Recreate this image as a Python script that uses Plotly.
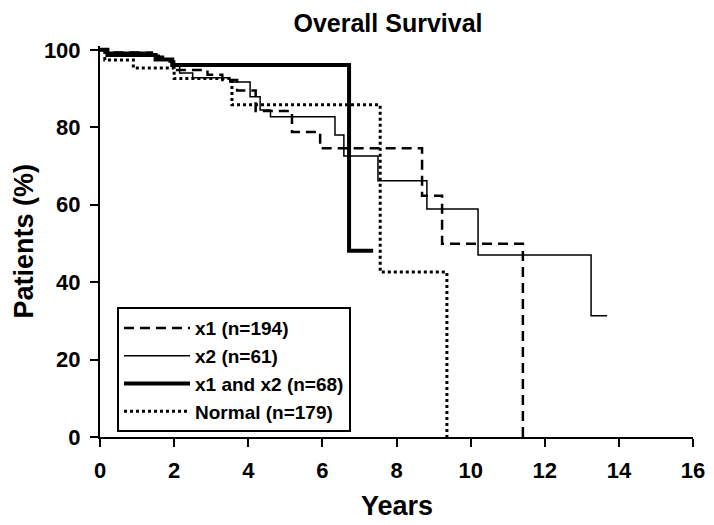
import plotly.graph_objects as go

# ---- data ----
x1_years = [0, 0.2, 1.4, 1.7, 2.0, 2.9, 3.3, 3.7, 4.2, 5.18, 5.94, 8.69, 9.23, 11.41]
x1_surv = [100, 99.3, 98.2, 97.0, 94.8, 93.6, 92.2, 89.5, 84.2, 78.8, 74.6, 62.3, 49.9, 0]

x2_years = [0, 0.15, 1.2, 1.6, 1.95, 2.15, 2.5, 3.5, 4.05, 4.32, 4.6, 6.34, 6.58, 7.5, 8.82, 10.2, 13.25, 13.68]
x2_surv = [100, 99.4, 98.6, 97.4, 96.2, 94.0, 92.8, 91.7, 87.9, 84.5, 82.7, 78.0, 72.6, 66.2, 58.9, 47.0, 31.3, 31.3]

both_years = [0, 0.2, 1.5, 1.95, 6.72, 7.37]
both_surv = [100, 98.7, 97.5, 96.1, 48.1, 48.1]

normal_years = [0, 0.13, 0.9, 2.0, 3.56, 7.56, 9.36]
normal_surv = [100, 97.4, 95.3, 92.6, 85.8, 42.6, 0]

series_names = ["x1 (n=194)", "x2 (n=61)", "x1 and x2 (n=68)", "Normal (n=179)"]
x_ticks = [0, 2, 4, 6, 8, 10, 12, 14, 16]
y_ticks = [0, 20, 40, 60, 80, 100]

FONT = "Liberation Sans, Arial, sans-serif"

# the page body has an 8px default margin, so the figure is drawn 8px smaller
W, H = 706, 517

fig = go.Figure()
fig.add_trace(go.Scatter(x=x1_years, y=x1_surv, mode="lines",
                         line=dict(color="black", width=2.5, dash="10px,6px", shape="hv"),
                         name=series_names[0]))
fig.add_trace(go.Scatter(x=x2_years, y=x2_surv, mode="lines",
                         line=dict(color="black", width=1.5, shape="hv"),
                         name=series_names[1]))
fig.add_trace(go.Scatter(x=both_years, y=both_surv, mode="lines",
                         line=dict(color="black", width=4, shape="hv"),
                         name=series_names[2]))
fig.add_trace(go.Scatter(x=normal_years, y=normal_surv, mode="lines",
                         line=dict(color="black", width=3, dash="3px,3px", shape="hv"),
                         name=series_names[3]))

fig.update_layout(
    width=W, height=H,
    margin=dict(l=92, r=21, t=38, b=88),
    paper_bgcolor="white", plot_bgcolor="white",
    font=dict(family=FONT, color="black"),
    title=dict(text="Overall Survival", x=380 / W, xanchor="center",
               y=1 - 15 / H, yanchor="middle",
               font=dict(size=25, weight="bold")),
    showlegend=True,
    legend=dict(x=0.0287, y=0.332, xanchor="left", yanchor="top",
                bgcolor="white", bordercolor="black", borderwidth=2,
                font=dict(size=19, family=FONT, weight="bold"), itemwidth=66,
                tracegroupgap=0),
    annotations=[
        dict(text="Years", xref="paper", yref="paper", x=0.5, y=-69 / 391,
             xanchor="center", yanchor="middle", showarrow=False,
             font=dict(size=27, weight="bold")),
        dict(text="Patients (%)", xref="paper", yref="paper", x=-77 / 593, y=0.5,
             xanchor="center", yanchor="middle", showarrow=False, textangle=-90,
             font=dict(size=27, weight="bold")),
    ],
)
fig.update_xaxes(range=[0, 16], tickvals=x_ticks,
                 showgrid=False, zeroline=False, showline=True, linecolor="black", linewidth=2,
                 ticks="outside", ticklen=8, tickwidth=2, tickcolor="black",
                 ticklabelstandoff=5, automargin=False,
                 tickfont=dict(size=22, weight="bold"))
fig.update_yaxes(range=[0, 101], tickvals=y_ticks,
                 showgrid=False, zeroline=False, showline=True, linecolor="black", linewidth=2,
                 ticks="outside", ticklen=8, tickwidth=2, tickcolor="black",
                 ticklabelstandoff=5, automargin=False,
                 tickfont=dict(size=22, weight="bold"))

fig.write_html("out.html")
